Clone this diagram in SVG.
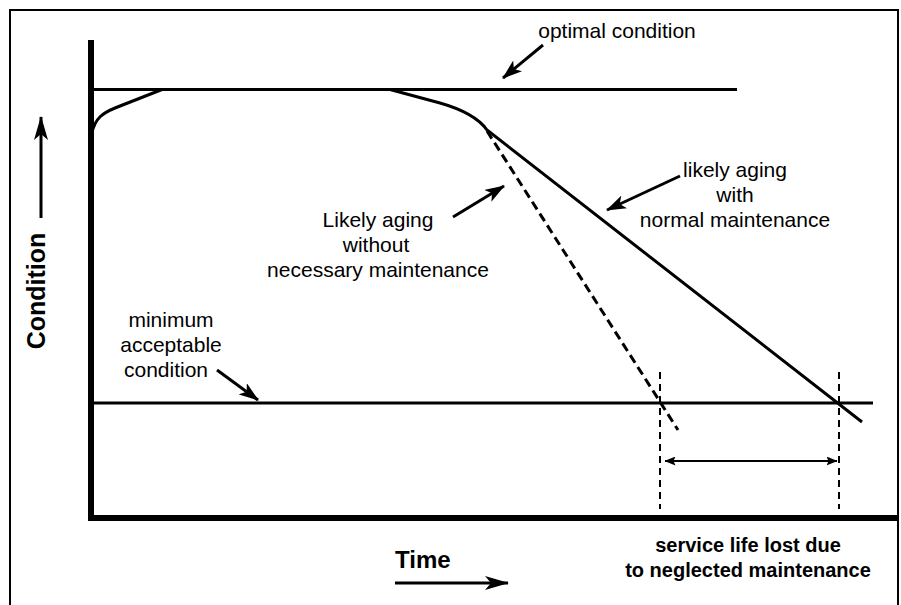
<svg xmlns="http://www.w3.org/2000/svg" width="901" height="605" viewBox="0 0 901 605">
<style>
text{font-family:"Liberation Sans",Arial,sans-serif;fill:#000}
.lbl{font-size:21px;text-anchor:middle}
.bold{font-weight:bold}
.ln{stroke:#000;fill:none}
</style>
<defs>
<marker id="ah" viewBox="0 0 20 14" refX="19" refY="7" markerWidth="20" markerHeight="14" markerUnits="userSpaceOnUse" orient="auto"><path d="M0,0 L20,7 L0,14 L5,7 z" fill="#000"/></marker>
<marker id="ahBig" viewBox="0 0 24 14" refX="23" refY="7" markerWidth="24" markerHeight="14" markerUnits="userSpaceOnUse" orient="auto"><path d="M0,0 L24,7 L0,14 L6,7 z" fill="#000"/></marker>
<marker id="ahS" viewBox="0 0 11 9" refX="10.5" refY="4.5" markerWidth="11" markerHeight="9" markerUnits="userSpaceOnUse" orient="auto-start-reverse"><path d="M0,0 L11,4.5 L0,9 L2,4.5 z" fill="#000"/></marker>
</defs>
<rect x="0" y="0" width="901" height="605" fill="#fff"/>
<rect x="10" y="10" width="888" height="620" fill="none" stroke="#000" stroke-width="2"/>

<g id="axes">
<line x1="91" y1="40" x2="91" y2="521" class="ln" stroke-width="6"/>
<line x1="88" y1="518" x2="898" y2="518" class="ln" stroke-width="6"/>
</g>

<g id="optimal-line"><line x1="91" y1="89.5" x2="737" y2="89.5" class="ln" stroke-width="3"/></g>
<g id="minimum-line"><line x1="91" y1="403" x2="873" y2="403" class="ln" stroke-width="3"/></g>

<g id="curves">
<path d="M92,133 C95,118 103,113 115,108 L162,89.5" class="ln" stroke-width="3"/>
<path d="M390,89.5 L440,103 Q475,113 487,130 L862,422" class="ln" stroke-width="3"/>
<line x1="487" y1="131" x2="678" y2="430" class="ln" stroke-width="3" stroke-dasharray="9 5"/>
</g>

<g id="connectors">
<line x1="543" y1="45" x2="503" y2="78" class="ln" stroke-width="3" marker-end="url(#ah)"/>
<line x1="680" y1="176" x2="607" y2="210" class="ln" stroke-width="3" marker-end="url(#ah)"/>
<line x1="453" y1="217" x2="504" y2="186" class="ln" stroke-width="3" marker-end="url(#ah)"/>
<line x1="217" y1="370" x2="258" y2="400" class="ln" stroke-width="3" marker-end="url(#ah)"/>
<line x1="41" y1="218" x2="41" y2="117" class="ln" stroke-width="3" marker-end="url(#ahBig)"/>
<line x1="395" y1="583" x2="508" y2="583" class="ln" stroke-width="3" marker-end="url(#ahBig)"/>
<line x1="660" y1="372" x2="660" y2="509" class="ln" stroke-width="2" stroke-dasharray="7 5"/>
<line x1="839" y1="372" x2="839" y2="509" class="ln" stroke-width="2" stroke-dasharray="7 5"/>
<line x1="665" y1="461" x2="837" y2="461" class="ln" stroke-width="2" marker-start="url(#ahS)" marker-end="url(#ahS)"/>
</g>

<g id="label-optimal"><text class="lbl" x="617" y="38">optimal condition</text></g>
<g id="label-normal">
<text class="lbl" x="735" y="177">likely aging</text>
<text class="lbl" x="735" y="202">with</text>
<text class="lbl" x="735" y="227">normal maintenance</text>
</g>
<g id="label-without">
<text class="lbl" x="378" y="227">Likely aging</text>
<text class="lbl" x="376" y="252">without</text>
<text class="lbl" x="378" y="277">necessary maintenance</text>
</g>
<g id="label-minimum">
<text class="lbl" x="171" y="327">minimum</text>
<text class="lbl" x="171" y="352">acceptable</text>
<text class="lbl" x="166" y="377">condition</text>
</g>
<g id="label-condition"><text class="bold" font-size="25" text-anchor="middle" x="45" y="291" transform="rotate(-90 45 291)">Condition</text></g>
<g id="label-time"><text class="bold" font-size="24" x="395" y="568">Time</text></g>
<g id="label-service">
<text class="bold" font-size="20" text-anchor="middle" x="748" y="552">service life lost due</text>
<text class="bold" font-size="20" text-anchor="middle" x="748" y="577">to neglected maintenance</text>
</g>
</svg>
